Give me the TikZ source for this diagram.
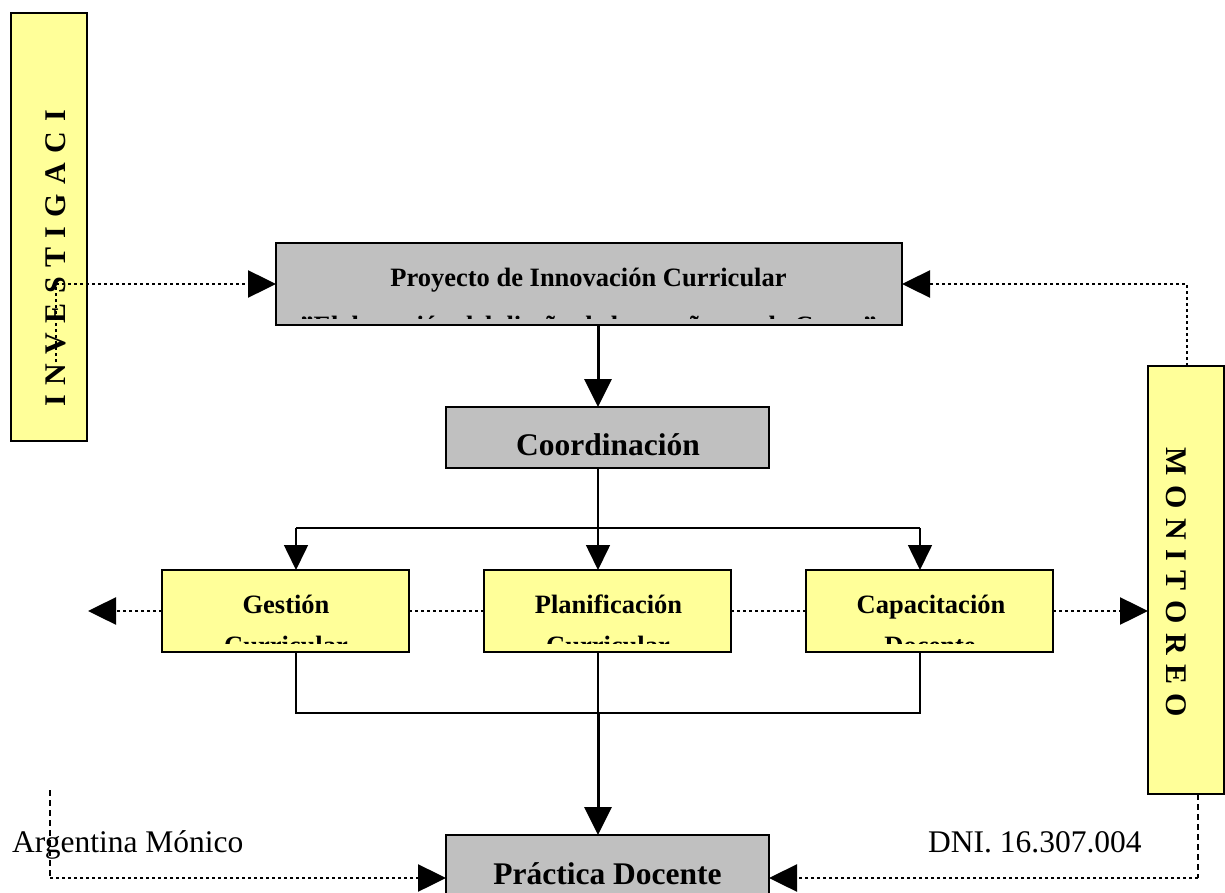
\documentclass[tikz,border=0pt]{standalone}
\usepackage{fontspec}
\setmainfont{Liberation Serif}
\usetikzlibrary{arrows.meta}
\definecolor{ylw}{RGB}{255,255,153}
\definecolor{gry}{RGB}{192,192,192}
\newcommand\lgap{\kern9.5pt}
\begin{document}
\begin{tikzpicture}[x=1pt,y=-1pt,
  box/.style={draw=black, line width=2.2pt, inner sep=0pt, outer sep=0pt},
  ybox/.style={box, fill=ylw},
  gbox/.style={box, fill=gry},
  mid/.style={font=\fontsize{26.5}{30}\selectfont\bfseries, inner sep=0pt, anchor=base},
  big/.style={font=\fontsize{31.5}{36}\selectfont\bfseries, inner sep=0pt, anchor=base},
  sig/.style={font=\fontsize{31.5}{36}\selectfont, inner sep=0pt, anchor=base west},
  vert/.style={font=\fontsize{30}{32}\selectfont\bfseries, inner sep=0pt, anchor=base},
  solidA/.style={line width=3pt},
  thinA/.style={line width=1.6pt},
  dotline/.style={line width=2.5pt, dash pattern=on 3pt off 3pt},
  dashline/.style={line width=1.6pt, dash pattern=on 6pt off 4pt},
  tipB/.style={-{Triangle[length=28pt,width=27pt]}},
  tipS/.style={-{Triangle[length=25pt,width=24pt]}},
]
\fill[white] (0,0) rectangle (1225,893);
\useasboundingbox (0,0) rectangle (1225,893);

% boxes
\node[ybox, minimum width=76pt, minimum height=428pt] (inv) at (49,227) {};
\node[ybox, minimum width=76pt, minimum height=428pt] (mon) at (1186,580) {};
\node[gbox, minimum width=626pt, minimum height=82pt] (proy) at (589,284) {};
\node[gbox, minimum width=323pt, minimum height=61pt] (coord) at (607.5,437.5) {};
\node[ybox, minimum width=247pt, minimum height=82pt] (gest) at (285.5,611) {};
\node[ybox, minimum width=247pt, minimum height=82pt] (plan) at (607.5,611) {};
\node[ybox, minimum width=247pt, minimum height=82pt] (cap) at (929.5,611) {};
\node[gbox, minimum width=323pt, minimum height=80pt] (prac) at (607.5,875) {};

% texts
\node[vert, rotate=90] (invT) at (65,258.5) {I\lgap N\lgap V\lgap E\lgap S\lgap T\lgap I\lgap G\lgap A\lgap C\lgap I};
\node[vert, rotate=-90] (monT) at (1166,582.5) {M\lgap O\lgap N\lgap I\lgap T\lgap O\lgap R\lgap E\lgap O};

\node[mid] (proyT1) at (588.5,286) {Proyecto de Innovación Curricular};
\begin{scope}
  \clip ([xshift=1pt,yshift=-1pt]proy.north west) rectangle ([xshift=-1pt,yshift=7pt]proy.south east);
  \node[mid] (proyT2) at (588.5,334) {\symbol{34}Elaboración del diseño de la enseñanza de Curso\symbol{34}};
\end{scope}

\node[big] (coordT) at (608,455) {Coordinación};

\node[mid] (gestT1) at (286,613) {Gestión};
\node[mid] (planT1) at (608.5,613) {Planificación};
\node[mid] (capT1) at (931,613) {Capacitación};
\begin{scope}
  \clip ([xshift=1pt,yshift=-1pt]gest.north west) rectangle ([xshift=-1pt,yshift=9pt]gest.south east);
  \node[mid] (gestT2) at (286,654) {Curricular};
\end{scope}
\begin{scope}
  \clip ([xshift=1pt,yshift=-1pt]plan.north west) rectangle ([xshift=-1pt,yshift=9pt]plan.south east);
  \node[mid] (planT2) at (608,654) {Curricular};
\end{scope}
\begin{scope}
  \clip ([xshift=1pt,yshift=-1pt]cap.north west) rectangle ([xshift=-1pt,yshift=9pt]cap.south east);
  \node[mid] (capT2) at (930,654) {Docente};
\end{scope}

\node[big] (pracT) at (607.5,884) {Práctica Docente};
\node[sig] (auth) at (12,852) {Argentina Mónico};
\node[sig] (dni) at (928,852) {DNI. 16.307.004};

% solid connectors
\coordinate (xa) at (598,0);
\coordinate (xg) at (296,0);
\coordinate (xc) at (920,0);
\coordinate (bj) at (598,528);
\coordinate (bm) at (598,713);
\draw[solidA, tipB] (xa |- proy.south) -- (xa |- coord.north);
\draw[thinA] (xa |- coord.south) -- (bj);
\draw[thinA] (xg |- bj) -- (xc |- bj);
\draw[thinA, tipS] (xg |- bj) -- (xg |- gest.north);
\draw[thinA, tipS] (bj) -- (xa |- plan.north);
\draw[thinA, tipS] (xc |- bj) -- (xc |- cap.north);
\draw[thinA] (xg |- gest.south) -- (xg |- bm) -- (xc |- bm) -- (xc |- cap.south);
\draw[thinA] (xa |- plan.south) -- (bm);
\draw[solidA, tipB] (bm) -- (xa |- prac.north);

% dotted connectors
\coordinate (iv) at (56,362);
\draw[dotline, tipB] (iv) -- (iv |- proy.west) -- (proy.west);
\coordinate (mt) at (1187,0);
\draw[dotline, tipB] (mt |- mon.north) -- (mt |- proy.east) -- (proy.east);
\coordinate (lt) at (88,611);
\draw[dotline, tipB] (gest.west) -- (lt);
\draw[dotline] (gest.east) -- (plan.west);
\draw[dotline] (plan.east) -- (cap.west);
\draw[dotline, tipB] (cap.east) -- (mon.west |- cap.east);

\coordinate (bl) at (50,790);
\coordinate (bl2) at (50,878);
\draw[dashline] (bl) -- (bl2);
\draw[dotline, tipB] (bl2) -- (bl2 -| prac.west);
\coordinate (br) at (1198,0);
\coordinate (br2) at (1198,878);
\draw[dashline] (br |- mon.south) -- (br2);
\draw[dotline, tipB] (br2) -- (br2 -| prac.east);
\end{tikzpicture}
\end{document}
